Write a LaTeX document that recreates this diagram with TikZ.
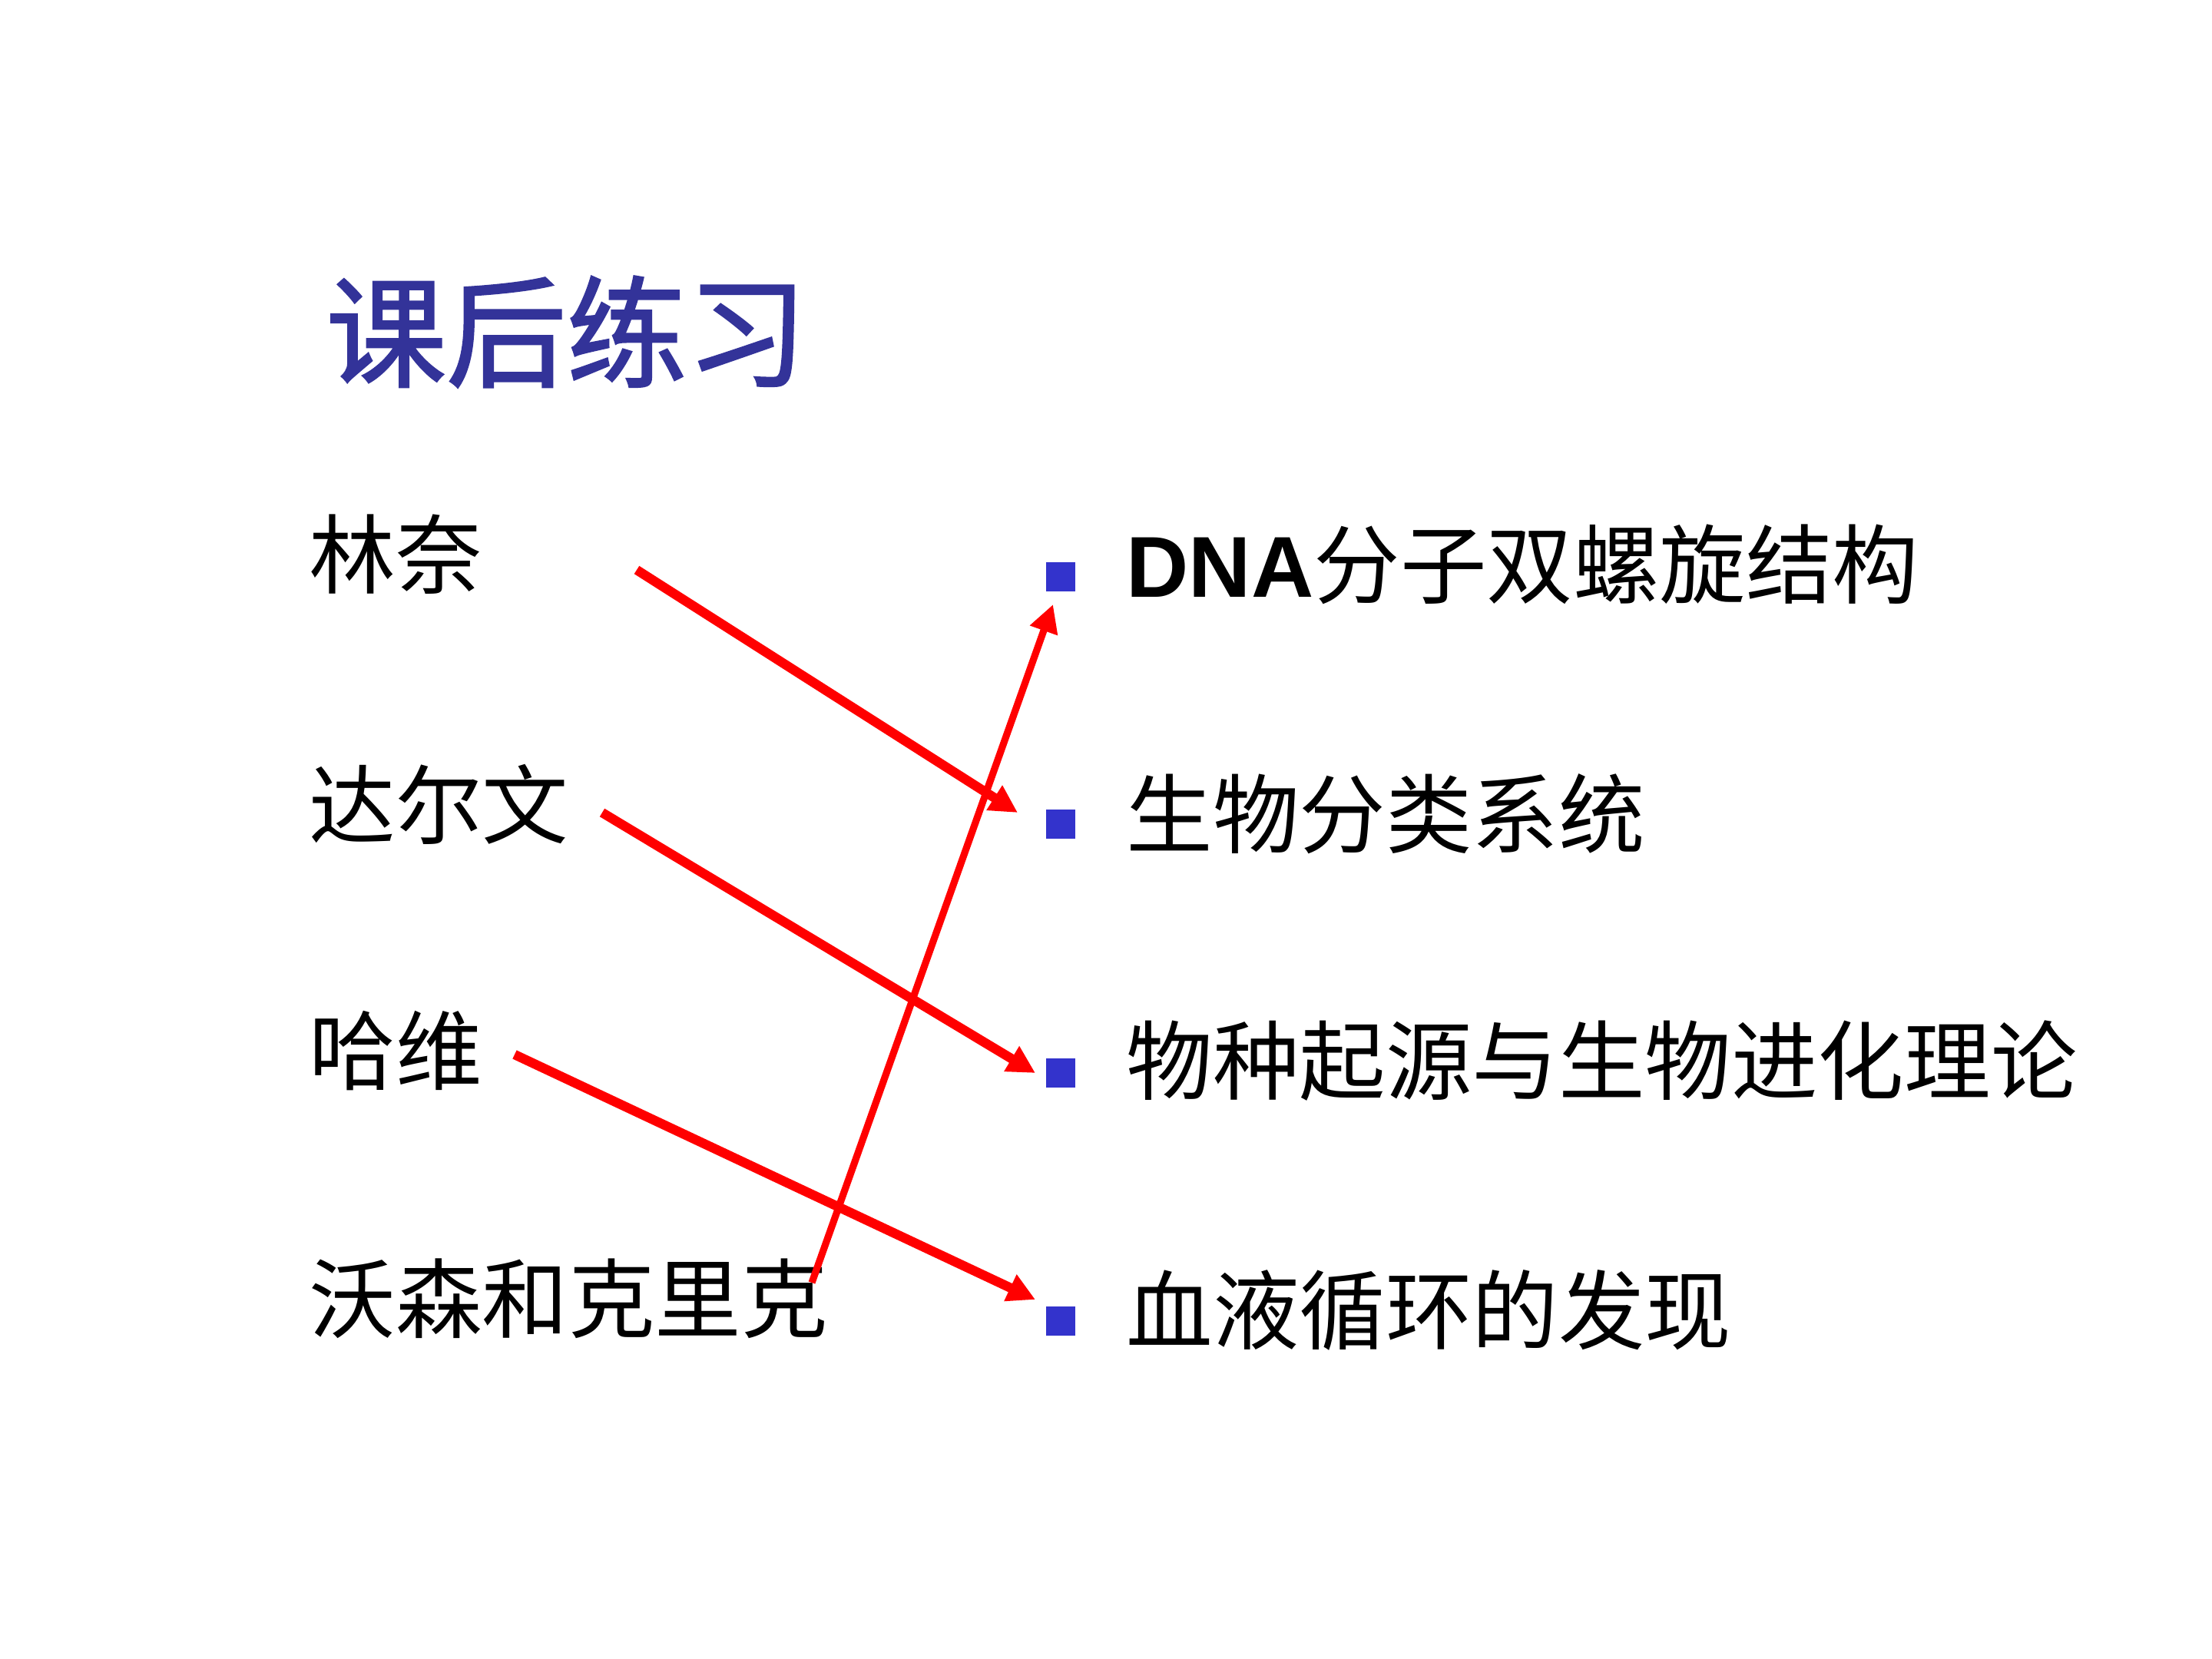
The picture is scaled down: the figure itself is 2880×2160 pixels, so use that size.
\documentclass[tikz,border=0pt]{standalone}
\usepackage{fontspec}
\newfontfamily\cjk{Noto Sans CJK SC}
\newfontfamily\cjkt[FakeBold=1.6]{Noto Sans CJK SC}
\newfontfamily\latinb{Liberation Sans}
\usetikzlibrary{arrows.meta}
\definecolor{titleblue}{HTML}{333399}
\definecolor{bulletblue}{HTML}{3333CC}
\tikzset{
  lbl/.style={anchor=west, inner sep=0pt, text=black, font=\cjk\fontsize{32}{38}\selectfont},
  ttl/.style={anchor=west, inner sep=0pt, text=titleblue, font=\cjkt\fontsize{44.5}{50}\selectfont},
  bul/.style={fill=bulletblue, minimum size=0.38cm, inner sep=0pt, draw=none},
  arr/.style={draw=red, line width=3.5pt, -{Triangle[length=0.36cm,width=0.36cm]}},
  thinarr/.style={draw=red, line width=2.6pt, -{Triangle[length=0.36cm,width=0.36cm]}}
}
\begin{document}
\begin{tikzpicture}[x=0.01cm,y=-0.01cm]
\useasboundingbox (0,0) rectangle (2880,2160);
\fill[white] (0,0) rectangle (2880,2160);
% title
\node[ttl] (title) at (424,432) {课后练习};
% left labels
\node[lbl] (linnai) at (402,722) {林奈};
\node[lbl] (darwin) at (402,1047) {达尔文};
\node[lbl] (harvey) at (402,1368) {哈维};
\node[lbl] (watson) at (402,1691) {沃森和克里克};
% bullets
\node[bul] (b1) at (1381,751) {};
\node[bul] (b2) at (1381,1073) {};
\node[bul] (b3) at (1381,1397) {};
\node[bul] (b4) at (1381,1720) {};
% right texts
\node[lbl] (dna) at (1466,735) {{\latinb\bfseries DNA}分子双螺旋结构};
\node[lbl] (fenlei) at (1466,1060) {生物分类系统};
\node[lbl] (jinhua) at (1466,1381) {物种起源与生物进化理论};
\node[lbl] (xunhuan) at (1466,1706) {血液循环的发现};
% arrow end points
\coordinate (s1) at (829,742);
\coordinate (e1) at (1325,1058);
\coordinate (s2) at (784,1058);
\coordinate (e2) at (1348,1397);
\coordinate (s3) at (670,1373);
\coordinate (e3) at (1348,1692);
\coordinate (s4) at (1057,1670);
\coordinate (e4) at (1371,787);
\draw[arr] (s1) -- (e1);
\draw[arr] (s2) -- (e2);
\draw[arr] (s3) -- (e3);
\draw[thinarr] (s4) -- (e4);
\end{tikzpicture}
\end{document}
